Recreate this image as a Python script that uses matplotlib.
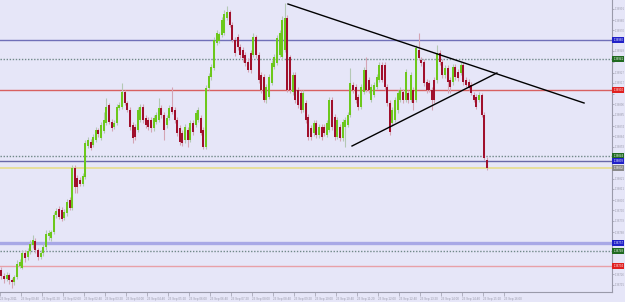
import matplotlib
matplotlib.use("Agg")
import matplotlib.pyplot as plt
import numpy as np

# ---- candle data (M5, 23 Sep 2011) ----
opens = [1.36730,1.36724,1.36721,1.36725,1.36720,1.36718,1.36723,1.36734,1.36732,1.36747,
         1.36743,1.36749,1.36755,1.36759,1.36750,1.36743,1.36747,1.36753,1.36764,1.36762,
         1.36768,1.36785,1.36791,1.36790,1.36782,1.36787,1.36800,1.36792,1.36832,1.36822,
         1.36820,1.36816,
         1.36823,1.36854,1.36858,1.36855,1.36860,1.36870,1.36862,1.36869,1.36877,1.36895,
         1.36878,1.36873,1.36877,1.36892,1.36893,1.36908,1.36897,1.36890,1.36875,1.36873,
         1.36870,1.36880,1.36893,1.36882,1.36880,1.36880,1.36872,1.36878,1.36880,1.36892,
         1.36885,1.36875,1.36882,1.36893,1.36890,1.36880,1.36872,1.36867,1.36860,1.36870,
         1.36860,1.36877,1.36875,1.36880,1.36882,1.36870,
         1.36853,1.36912,1.36923,1.36932,1.36957,1.36959,1.36965,1.36967,1.36982,1.36988,
         1.36975,1.36960,1.36963,1.36953,1.36950,1.36945,1.36938,1.36947,1.36945,1.36963,
         1.36945,1.36925,1.36923,1.36900,1.36903,1.36917,1.36933,1.36937,1.36945,1.36943,
         1.36950,1.36982,1.36943,1.36908,1.36925,1.36910,1.36907,1.36890,1.36897,1.36883,
         1.36872,1.36867,1.36877,1.36865,1.36873,1.36873,1.36865,1.36870,1.36900,1.36883,
         1.36863,1.36873,1.36862,1.36873,1.36875,1.36885,1.36915,1.36913,1.36903,1.36893,
         1.36908,1.36930,1.36920,1.36900,1.36905,1.36913,1.36920,1.36935,1.36935,1.36913,
         1.36897,1.36877,1.36880,1.36890,1.36900,1.36908,1.36900,
         1.36907,1.36900,1.36910,1.36900,1.36950,1.36940,1.36938,1.36918,1.36917,1.36910,
         1.36920,1.36920,1.36947,1.36938,1.36925,1.36932,1.36920,1.36918,1.36933,1.36928,
         1.36927,1.36935,1.36920,1.36918,1.36915,1.36905,1.36903,1.36900,1.36905,1.36885,
         1.36840]
highs = [1.36733,1.36727,1.36728,1.36727,1.36722,1.36725,1.36740,1.36741,1.36750,1.36750,
         1.36752,1.36760,1.36765,1.36762,1.36752,1.36750,1.36756,1.36770,1.36770,1.36770,
         1.36788,1.36792,1.36794,1.36793,1.36791,1.36801,1.36803,1.36835,1.36835,1.36825,
         1.36823,1.36827,
         1.36860,1.36863,1.36861,1.36866,1.36873,1.36872,1.36878,1.36888,1.36902,1.36897,
         1.36881,1.36880,1.36896,1.36898,1.36917,1.36910,1.36899,1.36893,1.36878,1.36876,
         1.36893,1.36896,1.36896,1.36885,1.36883,1.36883,1.36885,1.36888,1.36902,1.36895,
         1.36888,1.36885,1.36895,1.36913,1.36893,1.36883,1.36875,1.36870,1.36876,1.36873,
         1.36880,1.36880,1.36890,1.36893,1.36885,1.36873,
         1.36915,1.36927,1.36936,1.36963,1.36970,1.36968,1.36983,1.36990,1.36994,1.36990,
         1.36978,1.36963,1.36966,1.36956,1.36953,1.36948,1.36942,1.36950,1.36967,1.36965,
         1.36948,1.36928,1.36926,1.36916,1.36926,1.36940,1.36946,1.36965,1.36970,1.36984,
         1.36997,1.36985,1.36945,1.36928,1.36928,1.36913,1.36910,1.36910,1.36900,1.36886,
         1.36875,1.36880,1.36880,1.36876,1.36876,1.36876,1.36880,1.36903,1.36903,1.36886,
         1.36883,1.36876,1.36881,1.36883,1.36888,1.36932,1.36918,1.36916,1.36906,1.36916,
         1.36933,1.36943,1.36923,1.36916,1.36918,1.36926,1.36938,1.36938,1.36938,1.36916,
         1.36900,1.36893,1.36903,1.36910,1.36913,1.36911,1.36931,
         1.36910,1.36928,1.36913,1.36955,1.36967,1.36943,1.36941,1.36921,1.36920,1.36913,
         1.36923,1.36955,1.36950,1.36941,1.36935,1.36935,1.36923,1.36936,1.36936,1.36931,
         1.36938,1.36938,1.36923,1.36921,1.36918,1.36908,1.36906,1.36908,1.36907,1.36888,
         1.36843]
lows = [1.36721,1.36717,1.36719,1.36716,1.36712,1.36715,1.36721,1.36732,1.36731,1.36738,
        1.36740,1.36746,1.36752,1.36747,1.36740,1.36741,1.36744,1.36750,1.36760,1.36759,
        1.36766,1.36782,1.36781,1.36779,1.36780,1.36784,1.36790,1.36790,1.36807,1.36807,
        1.36814,1.36814,
        1.36821,1.36852,1.36850,1.36853,1.36858,1.36863,1.36860,1.36867,1.36875,1.36876,
        1.36869,1.36871,1.36875,1.36890,1.36891,1.36895,1.36888,1.36870,1.36857,1.36860,
        1.36868,1.36878,1.36877,1.36872,1.36870,1.36868,1.36869,1.36876,1.36878,1.36882,
        1.36860,1.36872,1.36880,1.36886,1.36877,1.36864,1.36855,1.36854,1.36857,1.36853,
        1.36858,1.36865,1.36873,1.36878,1.36865,1.36851,
        1.36851,1.36910,1.36920,1.36930,1.36955,1.36957,1.36963,1.36965,1.36980,1.36973,
        1.36958,1.36944,1.36950,1.36942,1.36938,1.36934,1.36928,1.36927,1.36943,1.36942,
        1.36917,1.36907,1.36898,1.36897,1.36901,1.36915,1.36931,1.36935,1.36943,1.36940,
        1.36948,1.36908,1.36907,1.36905,1.36897,1.36892,1.36887,1.36888,1.36877,1.36860,
        1.36860,1.36864,1.36862,1.36862,1.36860,1.36864,1.36863,1.36868,1.36870,1.36860,
        1.36861,1.36859,1.36859,1.36853,1.36873,1.36883,1.36907,1.36897,1.36890,1.36891,
        1.36906,1.36908,1.36907,1.36898,1.36903,1.36911,1.36918,1.36918,1.36910,1.36894,
        1.36865,1.36874,1.36878,1.36887,1.36898,1.36897,1.36898,
        1.36897,1.36898,1.36890,1.36898,1.36940,1.36934,1.36914,1.36907,1.36908,1.36890,
        1.36897,1.36917,1.36935,1.36922,1.36922,1.36907,1.36907,1.36915,1.36920,1.36919,
        1.36925,1.36915,1.36913,1.36910,1.36905,1.36898,1.36891,1.36898,1.36883,1.36840,
        1.36830]
closes = [1.36724,1.36721,1.36725,1.36720,1.36718,1.36723,1.36736,1.36738,1.36747,1.36742,
          1.36749,1.36756,1.36760,1.36750,1.36743,1.36747,1.36753,1.36766,1.36767,1.36768,
          1.36785,1.36789,1.36783,1.36781,1.36788,1.36798,1.36792,1.36832,1.36813,1.36813,
          1.36816,1.36824,
          1.36857,1.36860,1.36852,1.36863,1.36870,1.36866,1.36875,1.36880,1.36893,1.36878,
          1.36872,1.36877,1.36893,1.36895,1.36908,1.36897,1.36890,1.36873,1.36862,1.36863,
          1.36890,1.36893,1.36880,1.36875,1.36873,1.36872,1.36882,1.36885,1.36892,1.36885,
          1.36870,1.36882,1.36892,1.36888,1.36880,1.36867,1.36858,1.36857,1.36873,1.36860,
          1.36877,1.36868,1.36887,1.36890,1.36867,1.36853,
          1.36912,1.36924,1.36933,1.36960,1.36967,1.36966,1.36980,1.36986,1.36988,1.36975,
          1.36960,1.36947,1.36953,1.36945,1.36942,1.36937,1.36930,1.36930,1.36963,1.36945,
          1.36920,1.36910,1.36900,1.36913,1.36923,1.36937,1.36943,1.36962,1.36967,1.36980,
          1.36982,1.36910,1.36910,1.36925,1.36900,1.36895,1.36890,1.36907,1.36880,1.36863,
          1.36863,1.36877,1.36865,1.36873,1.36863,1.36867,1.36877,1.36900,1.36873,1.36863,
          1.36880,1.36862,1.36878,1.36880,1.36885,1.36917,1.36910,1.36900,1.36893,1.36913,
          1.36930,1.36910,1.36910,1.36913,1.36915,1.36923,1.36935,1.36920,1.36913,1.36897,
          1.36868,1.36890,1.36900,1.36907,1.36910,1.36900,1.36928,
          1.36900,1.36925,1.36897,1.36952,1.36942,1.36937,1.36917,1.36910,1.36910,1.36900,
          1.36900,1.36947,1.36938,1.36925,1.36932,1.36918,1.36913,1.36933,1.36923,1.36922,
          1.36935,1.36918,1.36915,1.36912,1.36907,1.36900,1.36893,1.36905,1.36885,1.36842,
          1.36832]

# trend lines (candle index, price)
trend1_x = [109.2, 222.0]
trend1_y = [1.36996, 1.36897]
trend2_x = [133.6, 188.8]
trend2_y = [1.36854, 1.36927]

# horizontal levels
level_prices = [1.36960, 1.36941, 1.36910, 1.36844, 1.36839, 1.36832, 1.36757, 1.36749, 1.36734]
level_colors = ['#7070B8', '#708888', '#D86060', '#708888', '#6868A8', '#E6DE9C', '#A8A8E6', '#708888', '#E8A0A8']
level_styles = ['-', ':', '-', ':', '-', '-', '-', ':', '-']
level_widths = [1.0, 1.0, 1.0, 1.0, 1.0, 1.4, 2.4, 1.0, 1.0]
tag_colors = ['#2020C8', '#206A20', '#E02020', '#206A20', '#2020C8', '#8A8A8A', '#2020C8', '#206A20', '#E02020']

# axis labels
y_ticks = [1.36991, 1.36980, 1.36970, 1.36959, 1.36949, 1.36938, 1.36927, 1.36917, 1.36906,
           1.36896, 1.36885, 1.36874, 1.36864, 1.36853, 1.36843, 1.36832, 1.36821, 1.36811,
           1.36800, 1.36790, 1.36779, 1.36768, 1.36758, 1.36747, 1.36737, 1.36726, 1.36715]
x_tick_labels = ["23 Sep 2011", "23 Sep 00:40", "23 Sep 01:20", "23 Sep 02:00", "23 Sep 02:40",
                 "23 Sep 03:20", "23 Sep 04:00", "23 Sep 04:40", "23 Sep 05:20", "23 Sep 06:00",
                 "23 Sep 06:40", "23 Sep 07:20", "23 Sep 08:00", "23 Sep 08:40", "23 Sep 09:20",
                 "23 Sep 10:00", "23 Sep 10:40", "23 Sep 11:20", "23 Sep 12:00", "23 Sep 12:40",
                 "23 Sep 13:20", "23 Sep 14:00", "23 Sep 14:40", "23 Sep 15:20", "23 Sep 16:00"]

BG = '#E6E6F8'
UP = '#6CC81C'
DN = '#A0102C'
UP_W = '#B4C8B4'
DN_W = '#D4A4B4'
AXC = '#9A9AAA'
FONT = ['Liberation Sans', 'DejaVu Sans']
plt.rcParams['font.family'] = FONT

fig = plt.figure(figsize=(6.25, 3.02), dpi=100, facecolor=BG)
ax = fig.add_axes([0, 10 / 302, 612 / 625, 292 / 302], facecolor=BG)

o = np.array(opens); h = np.array(highs); l = np.array(lows); c = np.array(closes)
idx = np.arange(len(o))
up = c >= o

# levels
for p, col, ls, lw in zip(level_prices, level_colors, level_styles, level_widths):
    ax.axhline(p, color=col, ls=ls if ls != ':' else (0, (1, 1.2)), lw=lw, zorder=1)

# candles
ax.vlines(idx[up], l[up], h[up], color=UP_W, lw=0.8, zorder=2)
ax.vlines(idx[~up], l[~up], h[~up], color=DN_W, lw=0.8, zorder=2)
body_lo = np.minimum(o, c)
body_h = np.maximum(np.abs(c - o), 0.000012)
ax.bar(idx[up], body_h[up], bottom=body_lo[up], width=0.78, color=UP, lw=0, zorder=3)
ax.bar(idx[~up], body_h[~up], bottom=body_lo[~up], width=0.78, color=DN, lw=0, zorder=3)

# trend lines
ax.plot(trend1_x, trend1_y, color='black', lw=1.0, zorder=4)
ax.plot(trend2_x, trend2_y, color='black', lw=1.0, zorder=4)

ax.set_xlim(-0.5, -0.5 + 612 / 2.625)
ax.set_ylim(1.36708, 1.37000)

# axes styling
for s in ['top', 'left']:
    ax.spines[s].set_visible(False)
for s in ['right', 'bottom']:
    ax.spines[s].set_color(AXC)
    ax.spines[s].set_linewidth(0.8)

# y tick labels (those lying under a price tag are hidden, as in the terminal)
ax.yaxis.tick_right()
ax.set_yticks(y_ticks)
ylabels = []
for v in y_ticks:
    hidden = any(abs(v - p) < 0.00006 for p in level_prices)
    ylabels.append("" if hidden else f"{v:.5f}")
ax.set_yticklabels(ylabels)
ax.tick_params(axis='y', labelsize=2.0, colors=AXC, length=1.5, width=0.5, pad=0.4)

xt = np.arange(len(x_tick_labels)) * 8 - 0.5
ax.set_xticks(xt)
ax.set_xticklabels(x_tick_labels)
for t in ax.get_xticklabels():
    t.set_horizontalalignment('left')
ax.tick_params(axis='x', labelsize=2.2, colors=AXC, length=3, width=0.5, pad=0.5)

# price tags on right
for p, tc in zip(level_prices, tag_colors):
    ax.annotate(f"{p:.5f}", xy=(1.0, p), xycoords=('axes fraction', 'data'),
                xytext=(0.9, 0), textcoords='offset points', ha='left', va='center',
                fontsize=2.0, color='white', annotation_clip=False,
                bbox=dict(boxstyle='square,pad=0.3', fc=tc, ec='none'), zorder=6)

fig.savefig('out.png', dpi=100, facecolor=BG)
